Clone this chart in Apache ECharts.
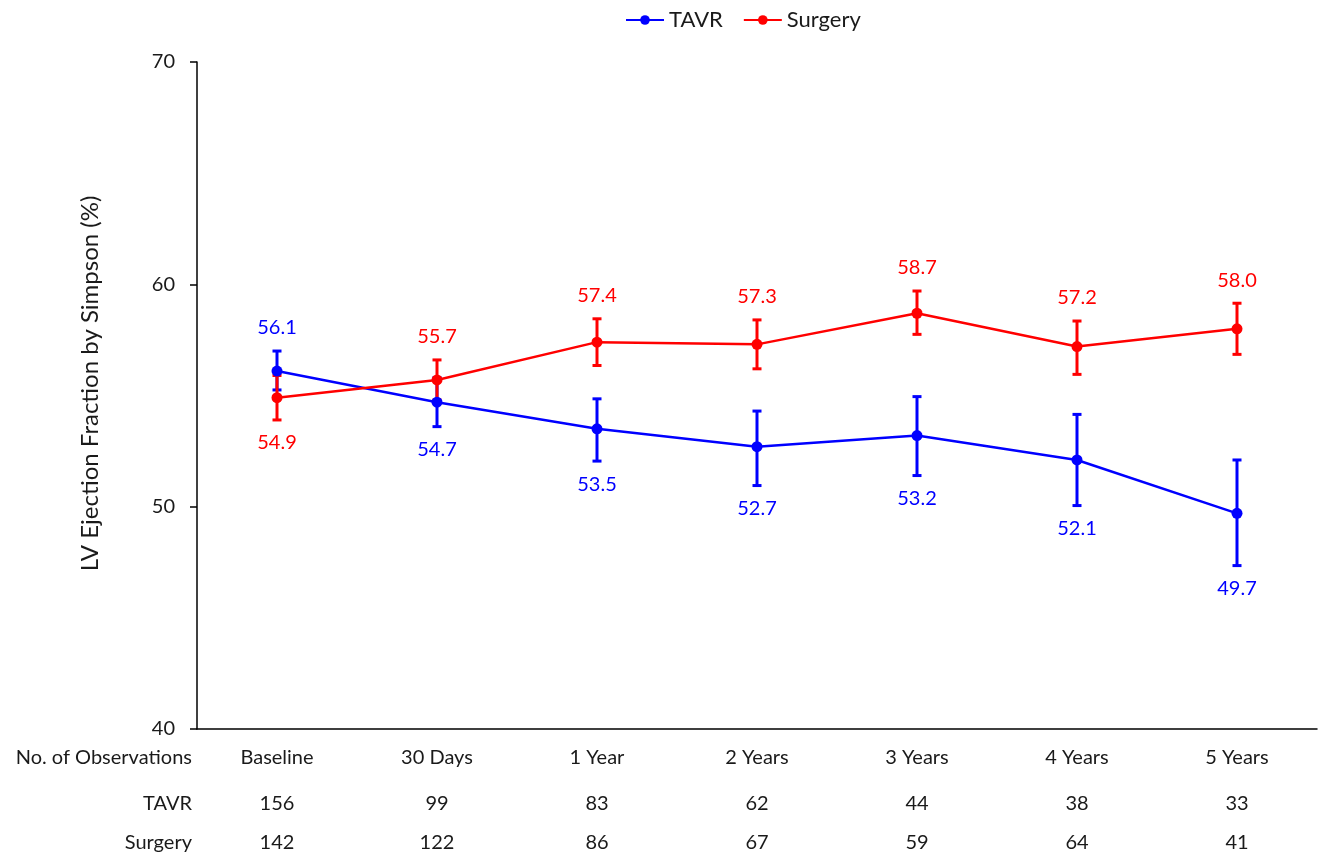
<!DOCTYPE html>
<html>
<head>
<meta charset="utf-8">
<script src="https://cdn.jsdelivr.net/npm/echarts@6/dist/echarts.min.js"></script>
<style>
  html, body { margin: 0; padding: 0; background: #fff; }
  #chart { width: 1324px; height: 861px; }
</style>
</head>
<body>
<div id="chart"></div>
<script>
// categories + numbers
var timepoints = ['Baseline', '30 Days', '1 Year', '2 Years', '3 Years', '4 Years', '5 Years'];

var tavrMean  = [56.1, 54.7, 53.5, 52.7, 53.2, 52.1, 49.7];
var tavrLow   = [55.25, 53.6, 52.05, 50.95, 51.4, 50.05, 47.35];
var tavrHigh  = [57.0, 55.8, 54.85, 54.3, 54.95, 54.15, 52.1];

var surgMean  = [54.9, 55.7, 57.4, 57.3, 58.7, 57.2, 58.0];
var surgLow   = [53.9, 54.8, 56.35, 56.2, 57.75, 55.95, 56.85];
var surgHigh  = [55.9, 56.6, 58.45, 58.4, 59.7, 58.35, 59.15];

var tavrN = [156, 99, 83, 62, 44, 38, 33];
var surgN = [142, 122, 86, 67, 59, 64, 41];

var yTicks = [40, 50, 60, 70];

var BLUE = '#0000ff', RED = '#ff0000';
var FONT = 'Lato, "Open Sans", sans-serif';
var TXT = '#1a1a1a';

// error bar data: [x, low, high, mean, labelAbove]
function barData(mean, low, high, other) {
  return mean.map(function (m, i) {
    return [i, low[i], high[i], m, m > other[i] ? 1 : 0];
  });
}

function errRender(color) {
  return function (params, api) {
    var x = api.value(0);
    var lo = api.coord([x, api.value(1)]);
    var hi = api.coord([x, api.value(2)]);
    var cap = 4.5;
    var st = { stroke: color, lineWidth: 3 };
    var above = api.value(4) === 1;
    var tp = above ? [hi[0], hi[1] - 23] : [lo[0], lo[1] + 23];
    return {
      type: 'group',
      children: [
        { type: 'line', shape: { x1: lo[0], y1: lo[1], x2: hi[0], y2: hi[1] }, style: st },
        { type: 'line', shape: { x1: lo[0] - cap, y1: lo[1], x2: lo[0] + cap, y2: lo[1] }, style: st },
        { type: 'line', shape: { x1: hi[0] - cap, y1: hi[1], x2: hi[0] + cap, y2: hi[1] }, style: st },
        { type: 'text', x: tp[0], y: tp[1], style: {
            text: api.value(3).toFixed(1), fill: color, font: '20px ' + FONT,
            align: 'center', verticalAlign: 'middle' } }
      ]
    };
  };
}

// hidden axes used as the "No. of Observations" table under the plot
function tableAxis(name, labels, offset) {
  return {
    type: 'category', data: labels, gridIndex: 0, position: 'bottom', offset: offset,
    axisLine: { show: false }, axisTick: { show: false },
    axisLabel: { margin: 0, verticalAlign: 'middle', color: TXT, fontSize: 20, fontFamily: FONT, interval: 0 },
    name: name, nameLocation: 'start', nameGap: 5,
    nameTextStyle: { color: TXT, fontSize: 20, fontFamily: FONT, align: 'right', verticalAlign: 'middle' }
  };
}

var option = {
  animation: false,
  backgroundColor: '#fff',
  legend: {
    top: 4, left: 620, itemWidth: 38, itemHeight: 12, itemGap: 20,
    textStyle: { fontSize: 22, fontFamily: FONT, color: TXT },
    data: ['TAVR', 'Surgery']
  },
  grid: { left: 197, right: 7, top: 62, bottom: 132, containLabel: false },
  xAxis: [
    {
      type: 'category', data: timepoints,
      axisLine: { lineStyle: { color: '#000', width: 1.5 } },
      axisTick: { show: false }, axisLabel: { show: false }
    },
    tableAxis('No. of Observations', timepoints, 29),
    tableAxis('TAVR', tavrN, 75),
    tableAxis('Surgery', surgN, 114)
  ],
  yAxis: {
    type: 'value', min: yTicks[0], max: yTicks[yTicks.length - 1], interval: 10,
    axisLine: { show: true, lineStyle: { color: '#000', width: 1.5 } },
    axisTick: { show: true, length: 7, lineStyle: { color: '#000', width: 1.5 } },
    splitLine: { show: false },
    axisLabel: { margin: 22, color: TXT, fontSize: 20, fontFamily: FONT },
    name: 'LV Ejection Fraction by Simpson (%)', nameLocation: 'middle', nameGap: 95,
    nameTextStyle: { color: TXT, fontSize: 24, fontFamily: FONT, padding: [0, 0, 0, 24] }
  },
  series: [
    {
      name: 'TAVR CI', type: 'custom', renderItem: errRender(BLUE),
      data: barData(tavrMean, tavrLow, tavrHigh, surgMean),
      encode: { x: 0, y: [1, 2] }, z: 2
    },
    {
      name: 'Surgery CI', type: 'custom', renderItem: errRender(RED),
      data: barData(surgMean, surgLow, surgHigh, tavrMean),
      encode: { x: 0, y: [1, 2] }, z: 2
    },
    {
      name: 'TAVR', type: 'line', data: tavrMean, color: BLUE,
      symbol: 'circle', symbolSize: 11, lineStyle: { width: 2.5 }, z: 3
    },
    {
      name: 'Surgery', type: 'line', data: surgMean, color: RED,
      symbol: 'circle', symbolSize: 11, lineStyle: { width: 2.5 }, z: 3
    }
  ]
};

var myChart = echarts.init(document.getElementById('chart'));
myChart.setOption(option);
</script>
</body>
</html>
